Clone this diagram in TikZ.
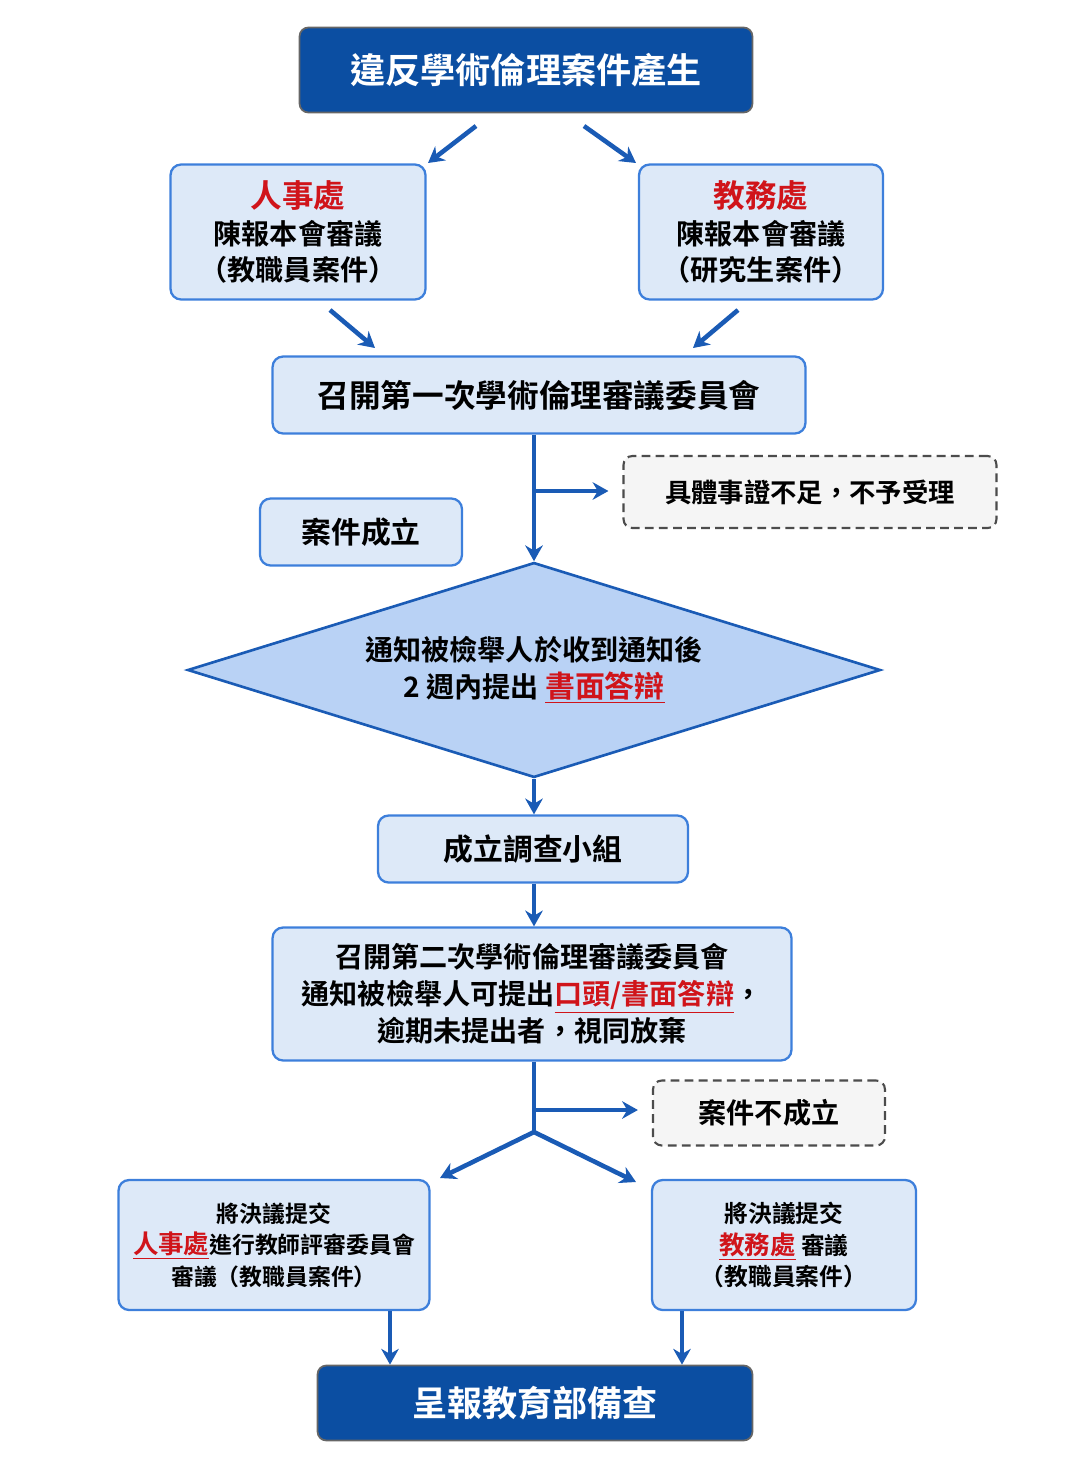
\documentclass[tikz,border=0pt]{standalone}
\usepackage{fontspec}
\setmainfont{Noto Sans CJK TC}[BoldFont={Noto Sans CJK TC Bold}]
\usetikzlibrary{arrows.meta,shapes.geometric,positioning}
\definecolor{darkblue}{HTML}{0B4EA2}
\definecolor{lightbox}{HTML}{DDE9F8}
\definecolor{boxline}{HTML}{3D7FDB}
\definecolor{arrowblue}{HTML}{1A5BB5}
\definecolor{hired}{HTML}{D0141A}
\definecolor{diafill}{HTML}{B9D2F5}
\newcommand{\hl}[1]{\textcolor{hired}{\underline{#1}}}
\tikzset{
  head/.style={draw=black!60,line width=1pt,fill=darkblue,rounded corners=5pt,text=white,font=\bfseries\fontsize{20}{24}\selectfont,align=center},
  stage/.style={draw=boxline,line width=1.3pt,fill=lightbox,rounded corners=6pt,font=\bfseries\fontsize{16}{21}\selectfont,align=center},
  note/.style={draw=black!70,line width=1.2pt,dash pattern=on 5pt off 3pt,fill=black!4,rounded corners=5pt,font=\bfseries\fontsize{15}{19}\selectfont,align=center},
  flow/.style={draw=arrowblue,line width=2.6pt,-{Stealth[length=9pt,width=10pt]}},
  link/.style={draw=arrowblue,line width=2.6pt}
}
\begin{document}
\begin{tikzpicture}[x=0.02cm,y=-0.02cm]
\useasboundingbox (0,0) rectangle (1071,1468);
% boxes
\node[head,minimum width=9.06cm,minimum height=1.7cm] (start) at (526,70) {違反學術倫理案件產生};
\node[stage,minimum width=5.1cm,minimum height=2.7cm] (hr) at (298,232) {\textcolor{hired}{\fontsize{18}{22}\selectfont 人事處}\\陳報本會審議\\（教職員案件）};
\node[stage,minimum width=4.88cm,minimum height=2.7cm] (aa) at (761,232) {\textcolor{hired}{\fontsize{18}{22}\selectfont 教務處}\\陳報本會審議\\（研究生案件）};
\node[stage,minimum width=10.66cm,minimum height=1.54cm,font=\bfseries\fontsize{18}{22}\selectfont] (meet1) at (539,395) {召開第一次學術倫理審議委員會};
\node[note,minimum width=7.46cm,minimum height=1.44cm] (reject) at (810,492) {具體事證不足，不予受理};
\node[stage,minimum width=4.04cm,minimum height=1.34cm,font=\bfseries\fontsize{17}{21}\selectfont] (valid) at (361,532) {案件成立};
\node[diamond,draw=arrowblue,line width=1.5pt,fill=diafill,minimum width=13.86cm,minimum height=4.3cm,aspect=3.2,inner sep=0pt,font=\bfseries\fontsize{16}{21}\selectfont,align=center] (notify) at (534,670) {通知被檢舉人於收到通知後\\2 週內提出 {\fontsize{17}{21}\selectfont\hl{書面答辯}}};
\node[stage,minimum width=6.2cm,minimum height=1.34cm,font=\bfseries\fontsize{17}{21}\selectfont] (team) at (533,849) {成立調查小組};
\node[stage,minimum width=10.38cm,minimum height=2.66cm] (meet2) at (532,994) {召開第二次學術倫理審議委員會\\通知被檢舉人可提出{\fontsize{16}{21}\selectfont\hl{口頭/書面答辯}}，\\逾期未提出者，視同放棄};
\node[note,minimum width=4.64cm,minimum height=1.3cm,font=\bfseries\fontsize{16}{20}\selectfont] (invalid) at (769,1113) {案件不成立};
\node[stage,minimum width=6.22cm,minimum height=2.6cm,font=\bfseries\fontsize{13}{18}\selectfont] (tohr) at (274,1245) {將決議提交\\\hl{\fontsize{14.5}{18}\selectfont 人事處}進行教師評審委員會\\審議（教職員案件）};
\node[stage,minimum width=5.28cm,minimum height=2.6cm,font=\bfseries\fontsize{13.5}{18}\selectfont] (toaa) at (784,1245) {將決議提交\\\hl{\fontsize{14.5}{18}\selectfont 教務處} 審議\\（教職員案件）};
\node[head,minimum width=8.7cm,minimum height=1.5cm] (report) at (535,1403) {呈報教育部備查};
% connectors
\coordinate (s1) at (476,126); \coordinate (e1) at (428,163);
\coordinate (s2) at (584,126); \coordinate (e2) at (636,163);
\coordinate (s3) at (330,310); \coordinate (e3) at (375,348);
\coordinate (s4) at (738,310); \coordinate (e4) at (693,348);
\coordinate (b1) at (534,491);
\coordinate (b2) at (534,1110);
\coordinate (fork) at (534,1132);
\coordinate (e5) at (440,1178); \coordinate (e6) at (636,1182);
\coordinate (l1) at (390,0); \coordinate (l2) at (682,0);
\draw[flow] (s1) -- (e1);
\draw[flow] (s2) -- (e2);
\draw[flow] (s3) -- (e3);
\draw[flow] (s4) -- (e4);
\draw[flow] (meet1.south -| b1) -- (notify.north);
\draw[flow] (b1) -- ([xshift=-8pt]reject.west |- b1);
\draw[flow] (notify.south) -- (team.north -| notify.south);
\draw[flow] (team.south -| b1) -- (meet2.north -| b1);
\draw[link] (meet2.south -| b1) -- (fork);
\draw[flow] (b2) -- ([xshift=-8pt]invalid.west |- b2);
\draw[flow] (fork) -- (e5);
\draw[flow] (fork) -- (e6);
\draw[flow] (tohr.south -| l1) -- (report.north -| l1);
\draw[flow] (toaa.south -| l2) -- (report.north -| l2);
\end{tikzpicture}
\end{document}
